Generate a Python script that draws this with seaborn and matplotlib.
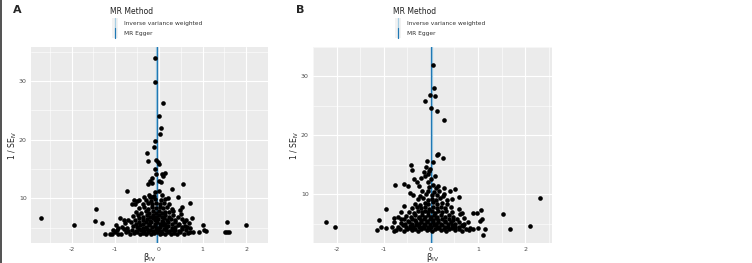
import pandas as pd
import matplotlib.pyplot as plt
import seaborn as sns
from matplotlib.lines import Line2D
from matplotlib.patches import Rectangle

# --- Data: panel A (beta_IV, 1/SE_IV) ---
a_spread = [
    (-0.08, 33.9), (-0.10, 29.8), (0.10, 26.3), (0.00, 24.1), (0.05, 22.0),
    (0.02, 21.0), (-0.09, 19.8), (-0.11, 18.8), (-0.27, 17.8), (-0.24, 16.3),
    (-0.07, 16.6), (-0.03, 16.2), (0.00, 15.9), (-0.10, 15.0), (-0.06, 14.2),
    (0.08, 14.2), (0.10, 13.9), (0.14, 14.3), (-0.16, 13.5), (-0.20, 13.05),
    (-0.26, 12.5), (-0.15, 12.7), (0.00, 12.9), (0.04, 12.8), (0.56, 12.5),
    (0.29, 11.6), (-0.72, 11.2), (-0.09, 11.1), (0.00, 11.3), (-0.23, 10.5),
    (-0.20, 10.2), (-0.16, 10.3), (0.22, 10.1), (0.44, 10.2), (-0.57, 9.8),
    (-0.46, 9.8), (-0.62, 9.0), (-0.55, 9.0), (0.71, 9.2), (0.54, 8.6),
    (-1.44, 8.2), (0.77, 6.7), (-2.70, 6.6), (-1.46, 6.1), (-1.31, 5.8),
    (-1.94, 5.5), (-0.90, 6.7), (-0.80, 6.4), (-0.99, 5.5), (-0.93, 4.9),
    (-1.11, 3.9), (-1.07, 3.9), (-1.24, 3.9), (-0.93, 3.9), (1.57, 6.0),
    (2.00, 5.4), (1.52, 4.2), (1.57, 4.2), (1.60, 4.3), (1.01, 5.4),
    (1.03, 4.7), (1.08, 4.5), (0.92, 4.2), (0.79, 4.2), (0.71, 4.9),
    (0.69, 5.8), (0.62, 6.3), (0.52, 6.5), (0.65, 5.2), (0.72, 4.3),
    (0.58, 6.0), (0.50, 7.4), (0.48, 8.0), (-1.00, 4.3), (-1.05, 4.6),
]
a_core = [
    (-0.86, 4.0), (-0.76, 4.2), (-0.66, 3.9), (-0.58, 4.1), (-0.50, 4.3), (-0.44, 3.9),
    (-0.37, 4.1), (-0.30, 4.0), (-0.24, 4.2), (-0.17, 3.9), (-0.11, 4.1), (-0.04, 4.3),
    (0.02, 3.9), (0.08, 4.1), (0.14, 4.0), (0.20, 4.2), (0.27, 3.9), (0.34, 4.1),
    (0.41, 4.0), (0.49, 4.2), (0.58, 3.9), (0.66, 4.1),
    (-0.95, 4.6), (-0.80, 4.8), (-0.70, 4.5), (-0.62, 4.7), (-0.53, 4.5), (-0.46, 4.8),
    (-0.40, 4.6), (-0.33, 4.5), (-0.27, 4.8), (-0.20, 4.6), (-0.14, 4.5), (-0.07, 4.8),
    (-0.01, 4.6), (0.05, 4.5), (0.11, 4.8), (0.17, 4.6), (0.24, 4.5), (0.31, 4.7),
    (0.38, 4.6), (0.45, 4.5), (0.53, 4.8), (0.62, 4.6),
    (-0.85, 5.2), (-0.72, 5.0), (-0.60, 5.3), (-0.50, 5.1), (-0.43, 5.4), (-0.36, 5.0),
    (-0.29, 5.2), (-0.23, 5.4), (-0.16, 5.1), (-0.10, 5.3), (-0.03, 5.0), (0.03, 5.2),
    (0.09, 5.4), (0.16, 5.1), (0.22, 5.3), (0.29, 5.0), (0.36, 5.2), (0.44, 5.4),
    (0.52, 5.1), (0.60, 5.3),
    (-0.78, 5.8), (-0.64, 5.9), (-0.53, 5.6), (-0.45, 5.9), (-0.37, 5.7), (-0.30, 6.0),
    (-0.23, 5.7), (-0.17, 5.9), (-0.10, 5.6), (-0.04, 5.9), (0.03, 5.7), (0.09, 6.0),
    (0.15, 5.7), (0.22, 5.9), (0.30, 5.6), (0.38, 5.9), (0.47, 5.7),
    (-0.70, 6.4), (-0.55, 6.3), (-0.45, 6.6), (-0.36, 6.3), (-0.28, 6.5), (-0.21, 6.2),
    (-0.14, 6.6), (-0.08, 6.3), (-0.01, 6.5), (0.06, 6.2), (0.12, 6.6), (0.19, 6.3),
    (0.27, 6.5), (0.36, 6.3),
    (-0.60, 7.0), (-0.47, 7.2), (-0.37, 6.9), (-0.28, 7.1), (-0.20, 6.8), (-0.13, 7.2),
    (-0.06, 6.9), (0.01, 7.1), (0.08, 6.8), (0.15, 7.2), (0.23, 6.9), (0.32, 7.1), (0.43, 6.9),
    (-0.52, 7.7), (-0.40, 7.5), (-0.30, 7.8), (-0.22, 7.5), (-0.14, 7.8), (-0.07, 7.5),
    (0.00, 7.8), (0.07, 7.5), (0.14, 7.7), (0.23, 7.6), (0.33, 7.8),
    (-0.45, 8.3), (-0.33, 8.5), (-0.24, 8.2), (-0.15, 8.5), (-0.07, 8.3), (0.02, 8.6),
    (0.10, 8.3), (0.19, 8.5), (0.30, 8.2),
    (-0.36, 9.1), (-0.25, 9.3), (-0.16, 9.0), (-0.06, 9.2), (0.03, 9.0), (0.12, 9.3), (0.23, 9.1),
    (-0.30, 9.8), (-0.18, 9.6), (-0.08, 9.9), (0.04, 9.7), (0.15, 9.9), (-0.50, 9.5),
    (-0.12, 10.4), (0.06, 10.5), (-0.35, 10.3),
]

# --- Data: panel B (beta_IV, 1/SE_IV) ---
b_spread = [
    (0.05, 31.95), (0.07, 28.0), (-0.01, 26.9), (0.08, 26.6), (-0.12, 25.9),
    (0.01, 24.6), (0.12, 24.1), (0.28, 22.6), (0.15, 16.9), (0.12, 16.7),
    (0.26, 16.1), (-0.08, 15.6), (0.04, 15.4), (-0.42, 15.0), (-0.39, 14.1),
    (-0.14, 13.7), (-0.07, 13.4), (-0.04, 14.0), (-0.35, 12.5), (-0.49, 11.4),
    (-0.57, 11.8), (-0.77, 11.6), (-0.07, 12.0), (-0.12, 13.0), (-2.23, 5.2),
    (-2.04, 4.4), (-0.95, 7.5), (-1.09, 5.6), (-1.14, 3.9), (-1.05, 4.5),
    (-0.96, 4.3), (-0.79, 5.9), (-0.79, 3.8), (-0.63, 5.7), (2.32, 9.35),
    (1.53, 6.7), (0.89, 6.8), (0.97, 6.8), (1.06, 7.3), (1.08, 5.8),
    (1.05, 5.45), (1.68, 4.0), (2.10, 4.6), (1.10, 3.1), (1.00, 4.3),
    (0.90, 4.0), (1.15, 4.0), (0.81, 3.9), (0.60, 9.6), (0.51, 10.9),
    (0.41, 10.5), (0.28, 11.0), (0.28, 10.05), (0.10, 11.1), (0.62, 6.7),
    (0.66, 6.8), (-0.30, 12.0), (-0.20, 12.8), (0.00, 12.6), (0.08, 13.1),
    (-0.10, 14.6), (-0.02, 14.3), (0.82, 4.2), (0.78, 5.2), (0.70, 6.0),
    (0.60, 7.4), (0.66, 4.7), (-0.82, 4.5), (-0.78, 5.2), (-0.70, 6.2),
    (-0.64, 7.0), (-0.58, 8.0),
]
b_core = [
    (-0.74, 3.9), (-0.66, 4.1), (-0.58, 3.8), (-0.51, 4.0), (-0.45, 4.2), (-0.39, 3.9),
    (-0.33, 4.1), (-0.27, 3.8), (-0.21, 4.0), (-0.15, 4.2), (-0.09, 3.9), (-0.03, 4.1),
    (0.03, 3.8), (0.09, 4.0), (0.15, 4.2), (0.21, 3.9), (0.27, 4.1), (0.33, 3.8),
    (0.39, 4.0), (0.45, 4.2), (0.52, 3.9), (0.59, 4.1), (0.67, 3.8), (0.75, 4.0),
    (-0.70, 4.5), (-0.60, 4.7), (-0.52, 4.4), (-0.45, 4.6), (-0.38, 4.4), (-0.31, 4.7),
    (-0.25, 4.5), (-0.18, 4.4), (-0.12, 4.7), (-0.06, 4.5), (0.00, 4.4), (0.06, 4.7),
    (0.12, 4.5), (0.18, 4.4), (0.24, 4.7), (0.30, 4.5), (0.37, 4.4), (0.44, 4.7),
    (0.51, 4.5), (0.59, 4.4), (0.68, 4.6),
    (-0.64, 5.1), (-0.54, 4.9), (-0.46, 5.2), (-0.39, 5.0), (-0.32, 5.3), (-0.26, 5.0),
    (-0.20, 5.2), (-0.14, 4.9), (-0.08, 5.2), (-0.02, 5.0), (0.04, 5.3), (0.10, 5.0),
    (0.16, 5.2), (0.22, 4.9), (0.29, 5.2), (0.36, 5.0), (0.43, 5.3), (0.51, 5.0),
    (0.60, 5.2), (0.70, 5.0),
    (-0.58, 5.7), (-0.48, 5.5), (-0.40, 5.8), (-0.33, 5.6), (-0.26, 5.9), (-0.20, 5.6),
    (-0.14, 5.8), (-0.08, 5.5), (-0.02, 5.8), (0.04, 5.6), (0.10, 5.9), (0.16, 5.6),
    (0.23, 5.8), (0.30, 5.5), (0.38, 5.8), (0.46, 5.6), (0.55, 5.8),
    (-0.52, 6.3), (-0.42, 6.1), (-0.33, 6.4), (-0.26, 6.2), (-0.19, 6.5), (-0.12, 6.2),
    (-0.06, 6.4), (0.01, 6.1), (0.07, 6.4), (0.14, 6.2), (0.21, 6.5), (0.29, 6.2),
    (0.38, 6.4), (0.48, 6.2),
    (-0.46, 7.0), (-0.36, 6.8), (-0.27, 7.1), (-0.19, 6.9), (-0.12, 7.2), (-0.05, 6.9),
    (0.02, 7.1), (0.09, 6.8), (0.16, 7.2), (0.24, 6.9), (0.33, 7.1), (0.45, 6.9),
    (-0.40, 7.7), (-0.29, 7.9), (-0.20, 7.6), (-0.12, 7.8), (-0.04, 7.5), (0.04, 7.8),
    (0.12, 7.6), (0.21, 7.9), (0.31, 7.6), (0.42, 7.8),
    (-0.34, 8.4), (-0.23, 8.2), (-0.13, 8.5), (-0.05, 8.3), (0.04, 8.6), (0.13, 8.3),
    (0.23, 8.5), (0.35, 8.3),
    (-0.28, 9.1), (-0.17, 9.3), (-0.07, 9.0), (0.02, 9.2), (0.11, 9.0), (0.20, 9.3),
    (0.34, 9.0), (0.45, 9.2),
    (-0.38, 9.9), (-0.22, 9.7), (-0.10, 10.0), (0.02, 9.8), (0.12, 9.9), (0.25, 9.7),
    (-0.18, 10.5), (-0.05, 10.6), (0.06, 10.4), (0.18, 10.6), (-0.44, 10.2),
    (-0.25, 11.4), (-0.03, 11.2), (0.05, 11.5), (0.16, 11.3),
]

# MR estimates (vertical lines)
methods = ['Inverse variance weighted', 'MR Egger']
method_colors = ['#a6cee3', '#1f78b4']
a_estimates = [-0.045, -0.035]
b_estimates = [0.02, 0.005]

x_ticks = [-2, -1, 0, 1, 2]
y_ticks = [10, 20, 30]

W, H = 752, 263


def fx(px):
    return px / W


def fy(py):
    return 1 - py / H


def style_axis(ax, xlim, ylim):
    ax.set_facecolor('#EBEBEB')
    for s in ax.spines.values():
        s.set_visible(False)
    ax.set_xlim(*xlim)
    ax.set_ylim(*ylim)
    ax.set_xticks(x_ticks)
    ax.set_xticklabels([str(t) for t in x_ticks])
    ax.set_yticks(y_ticks)
    ax.set_yticklabels([str(t) for t in y_ticks])
    ax.set_xticks([-2.5, -1.5, -0.5, 0.5, 1.5, 2.5], minor=True)
    ax.set_yticks([5, 15, 25, 35], minor=True)
    ax.grid(True, which='major', color='white', linewidth=0.8)
    ax.grid(True, which='minor', color='white', linewidth=0.4)
    ax.set_axisbelow(True)
    ax.tick_params(which='major', length=2, width=0.5, color='#333333',
                   labelsize=4.5, labelcolor='#4D4D4D', pad=1)
    ax.tick_params(which='minor', length=0)
    ax.set_xlabel('β$_{\\mathrm{IV}}$', fontsize=6, color='#222222')
    ax.set_ylabel('1 / SE$_{\\mathrm{IV}}$', fontsize=5.5, color='#222222')
    ax.xaxis.label.set_va('center')
    ax.yaxis.label.set_va('center')
    ax.xaxis.set_label_coords(0.5, -0.076)
    ax.yaxis.set_label_coords(-0.075, 0.5)


def draw_panel(ax, spread, core, estimates):
    df = pd.DataFrame(spread + core, columns=['beta', 'inv_se'])
    for est, col in zip(estimates, method_colors):
        ax.axvline(est, color=col, linewidth=1.6 if col == method_colors[0] else 0.9,
                   zorder=1)
    sns.scatterplot(data=df, x='beta', y='inv_se', ax=ax, color='black',
                    s=11, linewidth=0, zorder=3)


def draw_legend(fig, left_px):
    fig.text(fx(left_px), fy(11), 'MR Method', fontsize=5.5, color='#222222',
             va='center', ha='left')
    for i, (name, col) in enumerate(zip(methods, method_colors)):
        cy = 23 + i * 10
        fig.add_artist(Rectangle((fx(left_px + 2), fy(cy + 5)), 6 / W, 10 / H,
                                 transform=fig.transFigure, facecolor='#F2F2F2',
                                 edgecolor='none'))
        fig.add_artist(Line2D([fx(left_px + 5)] * 2, [fy(cy + 5), fy(cy - 5)],
                              transform=fig.transFigure, color=col, linewidth=0.9))
        fig.text(fx(left_px + 14), fy(cy), name, fontsize=4.2, color='#333333',
                 va='center', ha='left')


sns.set_style('darkgrid')
fig = plt.figure(figsize=(W / 100, H / 100), dpi=100)
ax_a = fig.add_axes([fx(31), fy(243), (268 - 31) / W, (243 - 47) / H])
ax_b = fig.add_axes([fx(313), fy(243), (552 - 313) / W, (243 - 47) / H])

draw_panel(ax_a, a_spread, a_core, a_estimates)
style_axis(ax_a, (-2.93, 2.19), (2.4, 35.8))
draw_panel(ax_b, b_spread, b_core, b_estimates)
style_axis(ax_b, (-2.46, 2.57), (1.7, 33.6))

draw_legend(fig, 110)
draw_legend(fig, 393)

fig.text(fx(13), fy(10), 'A', fontsize=8, fontweight='bold', va='center', ha='left')
fig.text(fx(296), fy(10), 'B', fontsize=8, fontweight='bold', va='center', ha='left')
fig.add_artist(Line2D([0.0015, 0.0015], [0, 1], transform=fig.transFigure,
                      color='#333333', linewidth=1.2))

fig.savefig('out.png', dpi=100)
plt.close(fig)
